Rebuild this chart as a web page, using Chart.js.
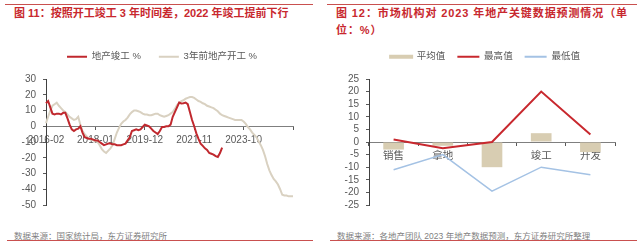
<!doctype html>
<html lang="zh">
<head>
<meta charset="UTF-8" />
<title>地产竣工与开工</title>
<script src="https://cdn.jsdelivr.net/npm/chart.js"></script>
<style>
  body { margin: 0; width: 640px; height: 247px; background: #fff; position: relative; overflow: hidden;
         font-family: "Liberation Sans", "Noto Sans CJK SC", sans-serif; }
  .rule { position: absolute; height: 1px; background: #c9504f; }
  .title { position: absolute; color: #c8282e; font-weight: bold; font-size: 11px; line-height: 17px; white-space: nowrap; }
  .src { position: absolute; color: #7f7f7f; font-size: 8.5px; white-space: nowrap; }
  canvas { position: absolute; }
</style>
</head>
<body>
  <div class="rule" style="left:5px; top:4px; width:308px;"></div>
  <div class="rule" style="left:327px; top:4px; width:310px;"></div>
  <div class="title" style="left:14px; top:5px;">图 11：按照开工竣工 3 年时间差，2022 年竣工提前下行</div>
  <div class="title" style="left:336px; top:5px; letter-spacing:0.9px;">图 12：市场机构对 2023 年地产关键数据预测情况（单<br>位：%）</div>

  <canvas id="leftChart" width="315" height="184" style="left:0; top:34px;"></canvas>
  <canvas id="rightChart" width="318" height="178" style="left:320px; top:40px;"></canvas>

  <div class="src" style="left:14px; top:229px;">数据来源：国家统计局，东方证券研究所</div>
  <div class="src" style="left:337px; top:229px;">数据来源：各地产团队 2023 年地产数据预测，东方证券研究所整理</div>
  <div class="rule" style="left:7px; top:240px; width:306px;"></div>
  <div class="rule" style="left:330px; top:240px; width:307px;"></div>

  <script>
    // monthly categories, 2016-02 onward
    const months = [];
    for (let i = 0; i < 116; i++) {
      const m = 1 + i;
      const y = 2016 + Math.floor(m / 12);
      const mm = (m % 12) + 1;
      months.push(y + "-" + String(mm).padStart(2, "0"));
    }

    const completion = [
      14.6, 16, 12, 8, 7.5, 8, 8, 7.5, 8.5, 8.5,
      5, 1, -2, -3, -2, -1.5, 0, -4, -7, -7.5,
      -8, -8, -8.5, -9, -9, -10, -11, -12, -11.5, -11,
      -11, -11.5, -11.5, -12, -12, -12, -11.5, -11, -9, -7,
      -3, -2.5, -2, -2.5, -2, -0.5, 1, 0.5, 0, -1.5,
      -3, -4, -5, -3, -0.5, -0.5, 0, 0, 1, 6,
      9, 12, 15, 14.5, 14.6, 15, 14, 9, 4, 0,
      -4.5, -8, -11, -12.5, -14, -15, -17, -17.5, -18, -19,
      -19.5, -17, -13.5
    ];

    const starts3yAgo = [
      2, 6, 10, 13, 14, 15, 13, 11.5, 10, 9,
      7.5, 6, 5, 4, 4.5, 6, 1, -3, -5, -6.5,
      -8, -8.5, -9, -9.5, -10, -12, -14.5, -16, -17, -15.5,
      -14, -12, -8, -4, -1, 1.5, 3, 4, 5.5, 7.5,
      9, 10, 10, 9.5, 9, 8, 7.5, 7.5, 7, 7,
      7.5, 8, 8, 7, 6.5, 6, 6.5, 7, 8, 9,
      11, 13.5, 15, 16, 16.5, 17.5, 18, 18.5, 18.5, 18,
      17, 16, 15.5, 14.6, 14, 13, 12.5, 12, 11.5, 10.5,
      9.5, 8, 7, 6.5, 6, 5.5, 5, 4.5, 4, 4,
      4, 4, 3, 1.5, -0.5, -2, -4, -5.5, -7, -9.5,
      -12, -15, -19, -24, -28, -31, -33.5, -35, -37, -40,
      -43.5, -44, -44, -44.5, -44.5, -44.5
    ];

    const items = ["销售", "拿地", "开工", "竣工", "开发"];
    const avgVals = [-3, -1.5, -10, 3.5, -4];
    const highVals = [1, -2.5, 0, 20, 3];
    const lowVals = [-11, -5, -19.5, -10, -13];

    Chart.defaults.font.family = '"Liberation Sans", "Noto Sans CJK SC", sans-serif';
    Chart.defaults.font.size = 10;
    Chart.defaults.color = "#595959";

    // y axes are kept narrow (so the legend centres like the original); don't clip their labels
    Chart.LinearScale.prototype._computeLabelArea = function () { return undefined; };

    const axisColor = "#595959";

    function legendLabels(chart) {
      const list = Chart.defaults.plugins.legend.labels.generateLabels(chart);
      list.forEach((it) => {
        const ds = chart.data.datasets[it.datasetIndex];
        if (ds.type === "bar") {
          it.lineWidth = 2;
          it.strokeStyle = ds.backgroundColor;
          it.fillStyle = ds.backgroundColor;
        } else {
          it.lineWidth = 0;
          it.fillStyle = ds.borderColor;
        }
      });
      return list.sort((a, b) => a.datasetIndex - b.datasetIndex);
    }

    // empty title used as a spacer between legend and plot
    const spacer = { display: true, text: " ", padding: 0, font: { size: 7.5, lineHeight: 1 } };

    new Chart(document.getElementById("leftChart"), {
      type: "line",
      data: {
        labels: months,
        datasets: [
          { type: "line", label: "地产竣工 %", data: completion, borderColor: "#c0282e", backgroundColor: "#c0282e", borderWidth: 2, pointRadius: 0 },
          { type: "line", label: "3年前地产开工 %", data: starts3yAgo, borderColor: "#d9d1c1", backgroundColor: "#d9d1c1", borderWidth: 2, pointRadius: 0 },
        ],
      },
      options: {
        responsive: false,
        animation: false,
        layout: { padding: { left: 31, right: 22, top: 0, bottom: 7 } },
        plugins: {
          tooltip: { enabled: false },
          title: spacer,
          legend: {
            position: "top",
            weight: 3000,
            labels: { boxWidth: 20, boxHeight: 2, padding: 18, font: { size: 9.5 }, generateLabels: legendLabels },
          },
        },
        scales: {
          x: {
            type: "category", position: { y: 0 }, offset: false,
            border: { display: true, color: "#7f7f7f", width: 1 },
            grid: { display: true, drawOnChartArea: false, tickLength: 3, color: axisColor },
            ticks: {
              autoSkip: false, maxRotation: 0, padding: 5,
              callback: function (value, index) {
                if (index % 23 !== 0) return null;
                if (index === 115) return "";
                return this.getLabelForValue(value);
              },
            },
          },
          y: {
            min: -50, max: 30,
            afterFit: (s) => { s.width = 15; },
            border: { display: true, color: "#404040", width: 1 },
            grid: { display: true, drawOnChartArea: false, tickLength: 3, color: axisColor },
            ticks: { stepSize: 10, padding: 7, autoSkip: false },
          },
        },
      },
    });

    new Chart(document.getElementById("rightChart"), {
      type: "bar",
      data: {
        labels: items,
        datasets: [
          { type: "bar", label: "平均值", data: avgVals, backgroundColor: "#d8cdb2", barPercentage: 0.42, categoryPercentage: 1, order: 2 },
          { type: "line", label: "最高值", data: highVals, borderColor: "#c8282e", backgroundColor: "#c8282e", borderWidth: 2, pointRadius: 0, order: 1 },
          { type: "line", label: "最低值", data: lowVals, borderColor: "#a4c2e4", backgroundColor: "#a4c2e4", borderWidth: 1.5, pointRadius: 0, order: 1 },
        ],
      },
      options: {
        responsive: false,
        animation: false,
        layout: { padding: { left: 35, right: 23, top: 0, bottom: 7 } },
        plugins: {
          tooltip: { enabled: false },
          title: spacer,
          legend: {
            position: "top",
            weight: 3000,
            labels: { boxWidth: 22, boxHeight: 2, padding: 12, font: { size: 9.5 }, generateLabels: legendLabels },
          },
        },
        scales: {
          x: {
            type: "category", position: { y: 0 }, offset: true, z: 1,
            border: { display: true, color: "#7f7f7f", width: 1 },
            grid: { display: true, offset: true, drawOnChartArea: false, tickLength: 3, color: axisColor },
            ticks: { maxRotation: 0, padding: 5, font: { size: 10.5 } },
          },
          y: {
            min: -25, max: 25,
            afterFit: (s) => { s.width = 14; },
            border: { display: true, color: "#404040", width: 1 },
            grid: { display: true, drawOnChartArea: false, tickLength: 3, color: axisColor },
            ticks: { stepSize: 5, padding: 7, autoSkip: false },
          },
        },
      },
    });
  </script>
</body>
</html>
